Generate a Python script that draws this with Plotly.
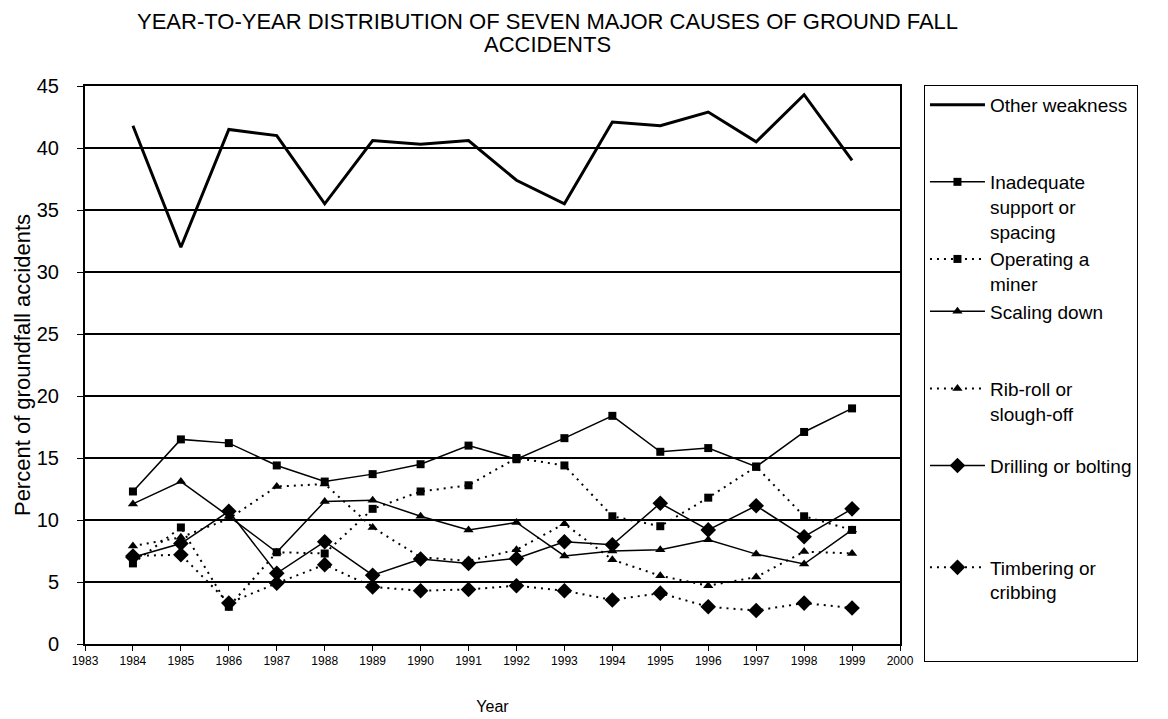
import plotly.graph_objects as go

years = list(range(1984, 2000))
other_weakness = [41.8, 32.0, 41.5, 41.0, 35.5, 40.6, 40.3, 40.6, 37.4, 35.5, 42.1, 41.8, 42.9, 40.5, 44.3, 39.0]
inadequate_support = [12.3, 16.5, 16.2, 14.4, 13.1, 13.7, 14.5, 16.0, 14.9, 16.6, 18.4, 15.5, 15.8, 14.3, 17.1, 19.0]
operating_miner = [6.5, 9.4, 3.0, 7.4, 7.3, 10.9, 12.3, 12.8, 15.0, 14.4, 10.3, 9.5, 11.8, 14.3, 10.3, 9.2]
scaling_down = [11.3, 13.1, 10.3, 7.4, 11.5, 11.6, 10.3, 9.2, 9.8, 7.1, 7.5, 7.6, 8.4, 7.25, 6.45, 9.2]
rib_roll = [7.9, 8.6, 10.1, 12.7, 12.9, 9.4, 7.0, 6.7, 7.6, 9.7, 6.8, 5.5, 4.7, 5.4, 7.45, 7.3]
drilling_bolting = [7.0, 8.1, 10.7, 5.7, 8.25, 5.55, 6.85, 6.5, 6.9, 8.25, 8.0, 11.35, 9.2, 11.15, 8.65, 10.9]
timbering_cribbing = [7.1, 7.2, 3.3, 4.9, 6.4, 4.6, 4.3, 4.4, 4.7, 4.3, 3.55, 4.1, 3.0, 2.7, 3.3, 2.9]

series_names = ["Other weakness", "Inadequate<br>support or<br>spacing", "Operating a<br>miner",
                "Scaling down", "Rib-roll or<br>slough-off", "Drilling or bolting", "Timbering or<br>cribbing"]
x_tick_years = list(range(1983, 2001))
y_ticks = [0, 5, 10, 15, 20, 25, 30, 35, 40, 45]
title_line1 = "YEAR-TO-YEAR DISTRIBUTION OF SEVEN MAJOR CAUSES OF GROUND FALL"
title_line2 = "ACCIDENTS"

FONT = "Liberation Sans, Arial, sans-serif"
DOT = "2px,5px"
# (values, dash, marker symbol, marker size, line width, extra blank legend lines)
styles = [
    (other_weakness, "solid", None, 0, 3, 2),
    (inadequate_support, "solid", "square", 8, 1.5, 0),
    (operating_miner, DOT, "square", 8, 2, 0),
    (scaling_down, "solid", "triangle-up", 9, 1.5, 2),
    (rib_roll, DOT, "triangle-up", 9, 2, 1),
    (drilling_bolting, "solid", "diamond", 12, 1.5, 3),
    (timbering_cribbing, DOT, "diamond", 12, 2, 2),
]

fig = go.Figure()
for name, (vals, dash, sym, msize, lw, pad) in zip(series_names, styles):
    legend_name = name + "<br>&nbsp;" * pad
    if sym is None:
        fig.add_trace(go.Scatter(x=years, y=vals, mode="lines", name=legend_name,
                                 line=dict(color="black", width=lw, dash=dash)))
    else:
        fig.add_trace(go.Scatter(x=years, y=vals, mode="lines+markers", name=legend_name,
                                 line=dict(color="black", width=lw, dash=dash),
                                 marker=dict(symbol=sym, size=msize, color="black")))

for txt, yy in [(title_line1, 1.1160), (title_line2, 1.0745)]:
    fig.add_annotation(text=txt, xref="paper", yref="paper", x=0.568, y=yy,
                       xanchor="center", yanchor="middle", showarrow=False,
                       font=dict(family=FONT, size=22, color="black"))

fig.update_layout(
    width=1160, height=711,
    margin=dict(l=77, r=268, t=78, b=75, autoexpand=False),
    paper_bgcolor="white", plot_bgcolor="white",
    font=dict(family=FONT, color="black", size=19),
    legend=dict(x=1.0294, xanchor="left", y=1.002, yanchor="top",
                bordercolor="black", borderwidth=1, bgcolor="white",
                font=dict(family=FONT, size=19, color="black"),
                valign="top", tracegroupgap=0, itemwidth=55, maxheight=700),
    showlegend=True,
)
fig.update_xaxes(range=[1983, 2000], tickmode="array", tickvals=x_tick_years,
                 ticktext=[str(v) for v in x_tick_years], automargin=False,
                 tickfont=dict(size=12, family=FONT), ticks="outside", ticklen=5, tickcolor="black",
                 showline=True, linecolor="black", linewidth=2, mirror=True,
                 showgrid=False, zeroline=False,
                 title=dict(text="Year", font=dict(size=16, family=FONT), standoff=33))
fig.update_yaxes(range=[0, 45], tickmode="array", tickvals=y_ticks, automargin=False,
                 tickfont=dict(size=20, family=FONT), ticks="outside", ticklen=6, tickcolor="black",
                 ticklabelstandoff=14,
                 showline=True, linecolor="black", linewidth=2, mirror=True,
                 showgrid=True, gridcolor="black", gridwidth=1.5, zeroline=False,
                 title=dict(text="Percent of groundfall accidents", font=dict(size=22, family=FONT), standoff=0))

fig.write_html("out.html")
